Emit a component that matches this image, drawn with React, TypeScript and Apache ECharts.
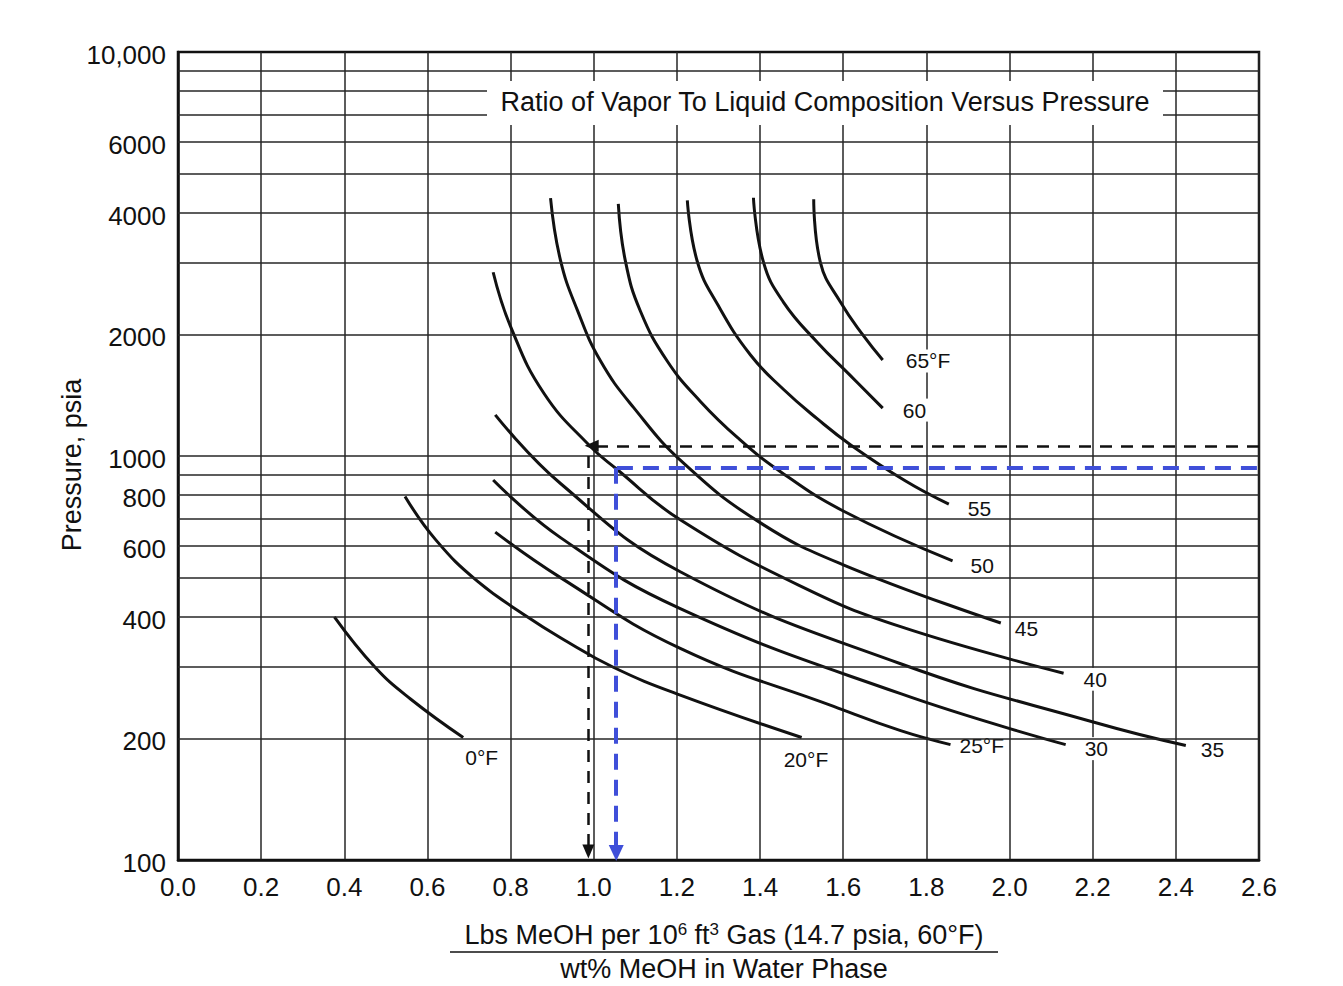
import React, { useEffect, useRef } from "react";
import * as echarts from "echarts";

// ---------- data ----------
const yTickValues = [100, 200, 400, 600, 800, 1000, 2000, 4000, 6000, 10000];
const yTickLabels = ["100", "200", "400", "600", "800", "1000", "2000", "4000", "6000", "10,000"];
const yGridValues = [200, 300, 400, 500, 600, 700, 800, 900, 1000, 2000, 3000, 4000, 5000, 6000, 7000, 8000, 9000];

const curveNames = ["0°F", "20°F", "25°F", "30", "35", "40", "45", "50", "55", "60", "65°F"];

const curve0 = [[0.376, 400], [0.474, 300], [0.56, 250], [0.686, 201]];
const curve20 = [[0.546, 794], [0.62, 620], [0.72, 490], [0.84, 400], [0.92, 355], [1.047, 300], [1.208, 256], [1.5, 201]];
const curve25 = [[0.763, 648], [0.92, 500], [1.208, 334], [1.577, 240], [1.738, 209], [1.858, 193]];
const curve30 = [[0.758, 872], [0.92, 628], [1.208, 419], [1.738, 258], [2.135, 193]];
const curve35 = [[0.763, 1264], [0.92, 855], [1.208, 517], [1.738, 306], [2.212, 218], [2.424, 192]];
const curve40 = [[0.758, 2850], [0.8, 2090], [0.88, 1430], [0.99, 1060], [1.054, 930], [1.208, 695], [1.5, 475], [1.738, 378], [2.13, 290]];
const curve45 = [[0.896, 4350], [0.92, 3050], [0.961, 2290], [1.016, 1720], [1.095, 1321], [1.216, 960], [1.4, 684], [1.6, 538], [1.979, 386]];
const curve50 = [[1.059, 4210], [1.076, 3040], [1.112, 2285], [1.177, 1716], [1.257, 1363], [1.346, 1110], [1.445, 921], [1.6, 731], [1.863, 550]];
const curve55 = [[1.225, 4295], [1.249, 3030], [1.298, 2370], [1.377, 1778], [1.456, 1463], [1.538, 1235], [1.618, 1065], [1.75, 867], [1.854, 760]];
const curve60 = [[1.384, 4358], [1.408, 3022], [1.456, 2404], [1.538, 1910], [1.618, 1579], [1.695, 1314]];
const curve65 = [[1.529, 4320], [1.545, 3016], [1.594, 2397], [1.649, 1983], [1.695, 1729]];

const curveData = [curve0, curve20, curve25, curve30, curve35, curve40, curve45, curve50, curve55, curve60, curve65];

// example read-off guides
const blackGuideP = 1060;
const blackGuideX = 0.995;
const blackGuideBottom = 105;
const blueGuideP = 935;
const blueGuideX = 1.054;
const blueGuideBottom = 104;
const xMax = 2.6;

// ---------- styles ----------
const FONT = '"Liberation Sans", Arial, Helvetica, sans-serif';
const INK = "#111111";
const labelOffsets: number[][] = [
  [0, 20], [-20, 22], [7, 1], [17, 4], [13, 4], [18, 6], [12, 5], [16, 5], [17, 4], [18, 2], [21, 1],
];

export default function App() {
  const ref = useRef<HTMLDivElement>(null);

  useEffect(() => {
    if (!ref.current) return;
    const chart = echarts.init(ref.current, null, { renderer: "svg" });

    const gridSeries = {
      type: "line",
      data: [],
      silent: true,
      markLine: {
        silent: true,
        symbol: ["none", "none"],
        label: { show: false },
        emphasis: { disabled: true },
        lineStyle: { color: "#262626", width: 1.5, type: "solid" },
        data: yGridValues.map((v) => ({ yAxis: v })),
      },
    };

    const tickSeries = {
      type: "line",
      data: [],
      silent: true,
      markLine: {
        silent: true,
        symbol: ["none", "none"],
        lineStyle: { color: "rgba(0,0,0,0)", width: 1, type: "solid" },
        emphasis: { disabled: true },
        label: {
          show: true,
          position: "start",
          distance: 12,
          offset: [0, 3],
          formatter: "{b}",
          fontSize: 26,
          color: INK,
          fontFamily: FONT,
        },
        data: yTickValues.map((v, i) => ({ yAxis: v, name: yTickLabels[i] })),
      },
    };

    const curveSeries = curveData.map((d, i) => ({
      type: "line",
      name: curveNames[i],
      data: d,
      symbol: "none",
      showSymbol: false,
      smooth: 0.45,
      silent: true,
      z: 3,
      lineStyle: { color: "#111", width: 3 },
      emphasis: { disabled: true },
      endLabel: {
        show: true,
        formatter: curveNames[i],
        distance: 0,
        offset: labelOffsets[i],
        fontSize: 21,
        color: INK,
        fontFamily: FONT,
        backgroundColor: "#fff",
        padding: [1, 2],
      },
    }));

    const guideSeries = {
      type: "line",
      data: [],
      silent: true,
      z: 4,
      markLine: {
        silent: true,
        label: { show: false },
        emphasis: { disabled: true },
        symbol: ["none", "none"],
        data: [
          [
            { coord: [xMax, blackGuideP], symbol: "none", lineStyle: { color: "#111", width: 2.5, type: [12, 9] } },
            { coord: [blackGuideX, blackGuideP], symbol: "triangle", symbolSize: [12, 14] },
          ],
          [
            { coord: [blackGuideX - 0.008, 1000], symbol: "none", lineStyle: { color: "#111", width: 2.5, type: [12, 9] } },
            { coord: [blackGuideX - 0.008, blackGuideBottom], symbol: "triangle", symbolSize: [12, 14] },
          ],
          [
            { coord: [xMax - 0.005, blueGuideP], symbol: "none", lineStyle: { color: "#3f4fd9", width: 4, type: [16, 10] } },
            { coord: [blueGuideX, blueGuideP], symbol: "none" },
          ],
          [
            { coord: [blueGuideX, blueGuideP], symbol: "none", lineStyle: { color: "#3f4fd9", width: 4, type: [16, 10] } },
            { coord: [blueGuideX, blueGuideBottom], symbol: "triangle", symbolSize: [15, 16] },
          ],
        ],
      },
    };

    const option = {
      animation: false,
      backgroundColor: "#ffffff",
      textStyle: { fontFamily: FONT },
      grid: {
        left: 178,
        right: 84,
        top: 52,
        bottom: 126,
        show: true,
        borderColor: "#111",
        borderWidth: 2.5,
        backgroundColor: "transparent",
      },
      xAxis: {
        type: "value",
        min: 0,
        max: 2.6,
        interval: 0.2,
        axisLine: { show: true, onZero: false, lineStyle: { color: "#111", width: 2.5 } },
        axisTick: { show: false },
        axisLabel: {
          formatter: (v: number) => v.toFixed(1),
          fontSize: 26,
          color: INK,
          margin: 14,
          fontFamily: FONT,
        },
        splitLine: { show: true, lineStyle: { color: "#262626", width: 1.5 } },
      },
      yAxis: {
        type: "log",
        logBase: 10,
        min: 100,
        max: 10000,
        axisLine: { show: true, onZero: false, lineStyle: { color: "#111", width: 2.5 } },
        axisTick: { show: false },
        axisLabel: { show: false },
        splitLine: { show: false },
      },
      graphic: [
        {
          type: "rect",
          z: 100,
          shape: { x: 487, y: 81, width: 676, height: 44 },
          style: { fill: "#fff" },
        },
        {
          type: "text",
          z: 101,
          x: 825,
          y: 102,
          style: {
            text: "Ratio of Vapor To Liquid Composition Versus Pressure",
            fontSize: 27,
            fontFamily: FONT,
            fill: INK,
            align: "center",
            verticalAlign: "middle",
          },
        },
        {
          type: "text",
          z: 101,
          x: 72,
          y: 465,
          rotation: Math.PI / 2,
          style: {
            text: "Pressure, psia",
            fontSize: 27,
            fontFamily: FONT,
            fill: INK,
            align: "center",
            verticalAlign: "middle",
          },
        },
        {
          type: "text",
          z: 101,
          x: 724,
          y: 935,
          style: {
            text: "Lbs MeOH per 10{s|6} ft{s|3} Gas (14.7 psia, 60°F)",
            rich: { s: { fontSize: 17, fontFamily: FONT, fill: INK, padding: [0, 0, 12, 0] } },
            fontSize: 27,
            fontFamily: FONT,
            fill: INK,
            align: "center",
            verticalAlign: "middle",
          },
        },
        {
          type: "line",
          z: 101,
          shape: { x1: 450, y1: 952, x2: 998, y2: 952 },
          style: { stroke: INK, lineWidth: 1.6 },
        },
        {
          type: "text",
          z: 101,
          x: 724,
          y: 969,
          style: {
            text: "wt% MeOH in Water Phase",
            fontSize: 27,
            fontFamily: FONT,
            fill: INK,
            align: "center",
            verticalAlign: "middle",
          },
        },
      ],
      series: [gridSeries, tickSeries, ...curveSeries, guideSeries],
    };

    chart.setOption(option as any);
    return () => chart.dispose();
  }, []);

  return (
    <div
      ref={ref}
      style={{ position: "absolute", left: 0, top: 0, width: 1343, height: 986, background: "#fff" }}
    />
  );
}
